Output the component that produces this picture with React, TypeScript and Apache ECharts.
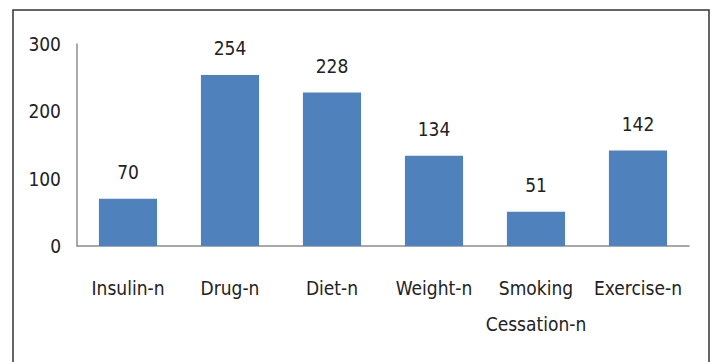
import React, { useEffect, useRef } from "react";
import * as echarts from "echarts";

const categories = ["Insulin-n", "Drug-n", "Diet-n", "Weight-n", "Smoking\nCessation-n", "Exercise-n"];
const values = [70, 254, 228, 134, 51, 142];
const yTicks = [0, 100, 200, 300];

const FONT = "'DejaVu Sans Condensed', 'Liberation Sans Narrow', sans-serif";

export default function App() {
  const ref = useRef<HTMLDivElement>(null);
  useEffect(() => {
    if (!ref.current) return;
    const chart = echarts.init(ref.current, undefined, { renderer: "svg" });
    chart.setOption({
      animation: false,
      backgroundColor: "#ffffff",
      grid: { left: 77, right: 26, top: 44, bottom: 116 },
      graphic: [
        {
          type: "rect",
          shape: { x: 13, y: 10, width: 696, height: 370 },
          style: { fill: "none", stroke: "#333", lineWidth: 1.5 },
          silent: true,
        },
      ],
      xAxis: {
        type: "category",
        data: categories,
        axisLine: { lineStyle: { color: "#8c8c8c", width: 1.5 } },
        axisTick: { show: false },
        axisLabel: {
          color: "#222",
          fontFamily: FONT,
          fontSize: 19,
          margin: 24,
          lineHeight: 36,
          interval: 0,
        },
      },
      yAxis: {
        type: "value",
        min: yTicks[0],
        max: yTicks[yTicks.length - 1],
        interval: 100,
        axisLine: { show: true, lineStyle: { color: "#8c8c8c", width: 1.5 } },
        axisTick: { show: false },
        splitLine: { show: false },
        axisLabel: { color: "#222", fontFamily: FONT, fontSize: 19, margin: 16 },
      },
      series: [
        {
          type: "bar",
          data: values,
          barWidth: "57%",
          itemStyle: { color: "#4f81bd" },
          label: {
            show: true,
            position: "top",
            distance: 17,
            color: "#222",
            fontFamily: FONT,
            fontSize: 19,
          },
        },
      ],
    });
    return () => chart.dispose();
  }, []);
  return (
    <div
      ref={ref}
      style={{ position: "absolute", left: 0, top: 0, width: 715, height: 362 }}
    />
  );
}
